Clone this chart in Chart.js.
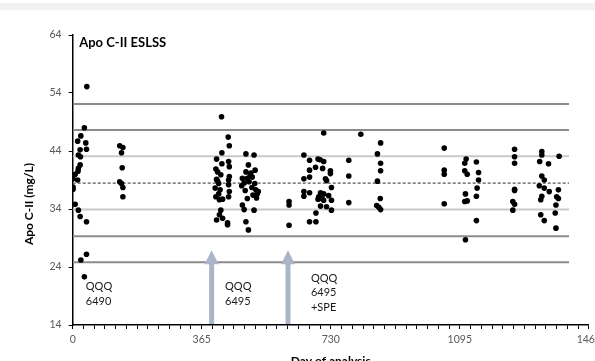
<!DOCTYPE html>
<html>
<head>
<meta charset="utf-8">
<script src="https://cdn.jsdelivr.net/npm/chart.js@4.4.1/dist/chart.umd.min.js"></script>
<style>
  html, body { margin: 0; padding: 0; background: #fff; overflow: hidden; }
  #wrap { position: relative; width: 595px; height: 361px; overflow: hidden; }
  #band { position: absolute; left: 0; top: 3px; width: 595px; height: 7px; background: #f1f1f1; }
  #apoChart { position: absolute; left: 0; top: 0; }
</style>
</head>
<body>
<div id="wrap">
  <div id="band"></div>
  <canvas id="apoChart" width="605" height="375"></canvas>
</div>
<script>
// Apo C-II results per day of analysis
const analysisDay = [
    40, 33, 23, 14, 37, 21, 39, 16, 22, 21, 16, 15, 7, 1, 14, 1, 1, 7, 16, 21, 39, 39, 23, 33,
    133, 142, 138, 140, 133, 138, 142, 142,
    421, 440, 443, 422, 407, 441, 422, 443, 410, 419, 407, 441, 413, 441, 403, 417, 443, 405,
    415, 424, 441, 419, 415, 407, 424, 438, 438, 410, 405, 413, 443,
    490, 513, 497, 516, 490, 504, 480, 494, 508, 485, 499, 478, 507, 518, 525, 510, 494, 520,
    480, 485, 513, 490, 497, 502, 515, 488, 522,
    612, 612, 612, 710, 654, 670, 694, 700, 710, 687, 670, 707, 729, 729, 654, 670, 715, 718,
    732, 654, 670, 654, 701, 710, 696, 705, 724, 732, 710, 694, 701, 718, 732, 688, 670, 688,
    815, 871, 781, 862, 871, 871, 781, 862, 781, 870, 860, 866, 871,
    1051, 1051, 1051, 1051, 1113, 1109, 1142, 1109, 1116, 1148, 1148, 1144, 1111, 1109, 1116, 1142, 1142, 1111,
    1250, 1250, 1250, 1250, 1250, 1245, 1250, 1245, 1327, 1327, 1321, 1346, 1376, 1327, 1334, 1320,
    1334, 1348, 1327, 1324, 1374, 1369, 1374, 1367, 1365, 1324, 1334, 1367
];
const apoC2 = [
    55.1, 48.0, 46.6, 45.7, 45.4, 44.2, 44.3, 43.3, 43.0, 41.6, 41.0, 40.5, 40.0, 39.2, 39.0, 37.8, 37.4, 34.8, 33.8, 32.7, 31.8, 26.2, 25.2, 22.3,
    44.9, 44.6, 43.7, 41.1, 38.7, 38.4, 37.7, 36.1,
    49.9, 46.4, 44.9, 43.7, 42.6, 42.2, 41.8, 41.3, 40.4, 39.9, 39.1, 39.0, 38.4, 38.2, 37.6, 37.3, 37.0, 36.1,
    35.6, 35.7, 36.1, 33.8, 33.0, 32.1, 32.4, 31.6, 31.3, 38.8, 40.9, 36.6, 39.6,
    43.5, 43.3, 41.6, 40.7, 40.4, 40.2, 39.3, 39.3, 39.5, 38.5, 38.7, 38.0, 37.7, 37.3, 37.0, 36.4, 35.8, 35.9,
    34.7, 33.9, 33.8, 31.8, 30.4, 39.9, 38.4, 37.2, 36.6,
    35.3, 34.7, 31.2, 47.1, 43.3, 42.4, 42.6, 42.5, 42.2, 41.2, 40.7, 41.0, 40.6, 40.1, 39.2, 39.5, 39.2, 38.9,
    37.7, 37.0, 36.8, 36.2, 36.8, 36.6, 36.1, 35.8, 36.3, 35.5, 35.5, 35.7, 34.5, 34.4, 33.8, 33.3, 31.8, 31.8,
    46.9, 45.4, 42.4, 43.5, 41.9, 40.6, 39.7, 38.8, 35.1, 35.8, 34.6, 34.3, 33.9,
    44.5, 40.7, 40.0, 34.9, 42.6, 41.9, 42.1, 40.6, 40.0, 40.3, 39.0, 37.6, 36.6, 35.3, 35.4, 36.2, 32.0, 28.7,
    44.3, 43.0, 41.9, 37.4, 37.2, 35.3, 34.8, 33.8, 43.9, 43.3, 42.2, 41.8, 43.1, 39.7, 39.0, 38.0,
    37.6, 37.0, 36.2, 35.6, 37.3, 36.1, 35.8, 34.7, 33.3, 33.0, 32.0, 30.7
];

// target mean and control limits (mg/L)
const meanLevel = 38.45;
const limitLevels = [52.1, 47.6, 43.1, 33.9, 29.3, 24.8];
const limitColors = ['#8c8c8c', '#8c8c8c', '#c9c9c9', '#c9c9c9', '#8c8c8c', '#8c8c8c'];
const limitEndDay = 1404;

// axis ticks
const dayTicks = [0, 365, 730, 1095, 1460];
const apoTicks = [14, 24, 34, 44, 54, 64];

// instrument changes
const arrowDays = [393, 609];
const arrowTip = 26.9;
const notes = [
    { day: 37, value: 20.6, lines: ['QQQ', '6490'] },
    { day: 431, value: 20.6, lines: ['QQQ', '6495'] },
    { day: 674, value: 22.1, lines: ['QQQ', '6495', '+SPE'] }
];

const FONT = 'Lato, "Liberation Sans", sans-serif';

const points = analysisDay.map((d, i) => ({ x: d, y: apoC2[i] }));

const limitSets = limitLevels.map((lvl, i) => ({
    type: 'line',
    data: [{ x: 0, y: lvl }, { x: limitEndDay, y: lvl }],
    borderColor: limitColors[i],
    borderWidth: 2,
    pointRadius: 0,
    showLine: true,
    order: 2
}));

const meanSet = {
    type: 'line',
    data: [{ x: 0, y: meanLevel }, { x: limitEndDay, y: meanLevel }],
    borderColor: '#555555',
    borderWidth: 1.3,
    borderDash: [3, 2],
    pointRadius: 0,
    showLine: true,
    order: 1
};

// month ticks along the day axis, labelled once a year
const monthTicks = [];
for (let m = 0; m <= 48; m++) monthTicks.push(m * 365 / 12);

const decor = {
    id: 'decor',
    afterDatasetsDraw(chart) {
        const { ctx, chartArea, scales: { x, y } } = chart;
        ctx.save();
        // arrows
        ctx.fillStyle = '#aab5c9';
        arrowDays.forEach(d => {
            const px = x.getPixelForValue(d);
            const tip = y.getPixelForValue(arrowTip);
            const base = tip + 14;
            ctx.fillRect(px - 2.5, base - 1, 5, chartArea.bottom - base);
            ctx.beginPath();
            ctx.moveTo(px, tip);
            ctx.lineTo(px - 7, base);
            ctx.lineTo(px + 7, base);
            ctx.closePath();
            ctx.fill();
        });
        // notes
        ctx.fillStyle = '#1a1a1a';
        ctx.font = '11px ' + FONT;
        ctx.textAlign = 'left';
        ctx.textBaseline = 'middle';
        notes.forEach(n => {
            const px = x.getPixelForValue(n.day);
            const py = y.getPixelForValue(n.value);
            n.lines.forEach((t, i) => ctx.fillText(t, px, py + i * 14.5));
        });
        ctx.restore();
    },
    afterDraw(chart) {
        const { ctx, chartArea } = chart;
        ctx.save();
        ctx.fillStyle = '#000';
        ctx.font = 'bold 13px ' + FONT;
        ctx.textAlign = 'left';
        ctx.textBaseline = 'middle';
        ctx.fillText('Apo C-II ESLSS', chartArea.left + 6.5, chartArea.top + 8);

        ctx.font = 'bold 12px ' + FONT;
        ctx.textAlign = 'center';
        ctx.translate(29.5, 204);
        ctx.rotate(-Math.PI / 2);
        ctx.fillText('Apo C-II (mg/L)', 0, 0);
        ctx.restore();

        ctx.save();
        ctx.fillStyle = '#000';
        ctx.font = 'bold 12px ' + FONT;
        ctx.textAlign = 'center';
        ctx.textBaseline = 'top';
        ctx.fillText('Day of analysis', (chartArea.left + chartArea.right) / 2, 355);
        ctx.restore();
    }
};

new Chart(document.getElementById('apoChart'), {
    type: 'scatter',
    data: {
        datasets: [{
            data: points,
            backgroundColor: '#000',
            borderWidth: 0,
            pointRadius: 2.8,
            order: 0
        }, meanSet, ...limitSets]
    },
    options: {
        responsive: false,
        animation: false,
        layout: { padding: { top: 35, right: 14, bottom: 0, left: 0 } },
        plugins: { legend: { display: false }, tooltip: { enabled: false } },
        scales: {
            x: {
                type: 'linear',
                min: 0,
                max: 1460,
                afterBuildTicks: scale => { scale.ticks = monthTicks.map(v => ({ value: v })); },
                afterFit: scale => { scale.height = 50; },
                grid: { drawOnChartArea: false, drawTicks: true, tickLength: 4, tickColor: '#000', tickWidth: 1 },
                border: { display: true, color: '#000', width: 1.5 },
                ticks: {
                    autoSkip: false,
                    maxRotation: 0,
                    padding: 4,
                    color: '#595959',
                    font: { family: FONT, size: 10.5 },
                    callback: v => {
                        const d = dayTicks.find(t => Math.abs(t - v) < 0.01);
                        return d === undefined ? '' : String(d);
                    }
                }
            },
            y: {
                type: 'linear',
                min: 14,
                max: 64,
                afterBuildTicks: scale => { scale.ticks = apoTicks.map(v => ({ value: v })); },
                afterFit: scale => { scale.width = 72.7; },
                grid: { drawOnChartArea: false, drawTicks: true, tickLength: 4, tickColor: '#000', tickWidth: 1 },
                border: { display: true, color: '#000', width: 1.5 },
                ticks: {
                    padding: 7,
                    color: '#595959',
                    font: { family: FONT, size: 10.5 }
                }
            }
        }
    },
    plugins: [decor]
});
</script>
</body>
</html>
